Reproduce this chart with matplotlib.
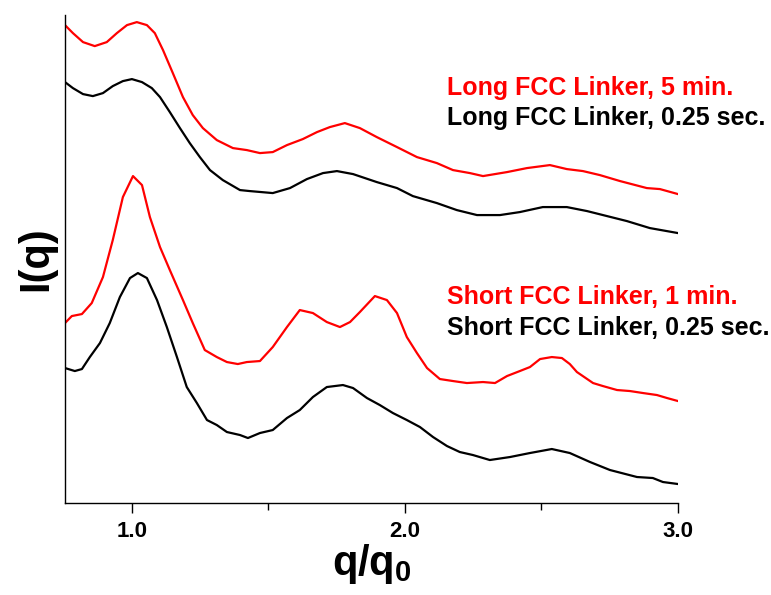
import matplotlib
matplotlib.use("Agg")
import matplotlib.pyplot as plt
from matplotlib.ticker import MultipleLocator

plt.rcParams['font.family'] = ['Liberation Sans', 'DejaVu Sans']

# Long FCC linker, 5 min (red, upper)
q_long5 = [0.755, 0.784, 0.821, 0.864, 0.908, 0.945, 0.982, 1.018, 1.055, 1.084,
           1.114, 1.150, 1.187, 1.223, 1.260, 1.311, 1.370, 1.421, 1.469, 1.516,
           1.568, 1.626, 1.678, 1.725, 1.780, 1.835, 1.897, 1.971, 2.044, 2.117,
           2.176, 2.238, 2.286, 2.374, 2.447, 2.531, 2.593, 2.652, 2.714, 2.788,
           2.886, 2.934, 3.0]
i_long5 = [4.78, 4.70, 4.61, 4.57, 4.61, 4.70, 4.78, 4.81, 4.78, 4.70,
           4.53, 4.30, 4.06, 3.88, 3.75, 3.63, 3.55, 3.53, 3.50, 3.51,
           3.58, 3.64, 3.71, 3.76, 3.80, 3.75, 3.66, 3.56, 3.46, 3.40,
           3.33, 3.30, 3.27, 3.31, 3.35, 3.38, 3.34, 3.32, 3.28, 3.22,
           3.15, 3.14, 3.09]

# Long FCC linker, 0.25 sec (black, upper)
q_long025 = [0.755, 0.784, 0.821, 0.857, 0.894, 0.930, 0.967, 1.000, 1.037, 1.073,
             1.103, 1.139, 1.176, 1.212, 1.249, 1.286, 1.333, 1.396, 1.432, 1.516,
             1.579, 1.641, 1.700, 1.751, 1.810, 1.897, 1.971, 2.029, 2.117, 2.190,
             2.264, 2.348, 2.421, 2.505, 2.593, 2.667, 2.740, 2.813, 2.897, 3.0]
i_long025 = [4.21, 4.15, 4.09, 4.07, 4.10, 4.17, 4.22, 4.24, 4.21, 4.15,
             4.06, 3.91, 3.75, 3.60, 3.46, 3.33, 3.23, 3.13, 3.12, 3.10,
             3.15, 3.24, 3.30, 3.32, 3.29, 3.21, 3.15, 3.07, 3.00, 2.93,
             2.88, 2.88, 2.91, 2.96, 2.96, 2.92, 2.87, 2.82, 2.75, 2.70]

# Short FCC linker, 1 min (red, lower)
q_short1 = [0.755, 0.780, 0.817, 0.853, 0.894, 0.930, 0.967, 1.004, 1.037, 1.066,
            1.103, 1.139, 1.187, 1.223, 1.267, 1.311, 1.348, 1.388, 1.421, 1.469,
            1.516, 1.568, 1.615, 1.663, 1.714, 1.762, 1.799, 1.835, 1.890, 1.934,
            1.971, 2.007, 2.044, 2.081, 2.128, 2.176, 2.227, 2.286, 2.330, 2.374,
            2.421, 2.458, 2.495, 2.538, 2.575, 2.604, 2.630, 2.689, 2.725, 2.777,
            2.824, 2.872, 2.923, 2.960, 3.0]
i_short1 = [1.80, 1.87, 1.89, 2.00, 2.26, 2.63, 3.06, 3.27, 3.18, 2.86,
            2.56, 2.33, 2.03, 1.80, 1.53, 1.46, 1.41, 1.39, 1.41, 1.42,
            1.56, 1.76, 1.93, 1.90, 1.81, 1.76, 1.81, 1.91, 2.07, 2.03,
            1.90, 1.66, 1.50, 1.35, 1.24, 1.22, 1.20, 1.21, 1.20, 1.27,
            1.32, 1.36, 1.44, 1.46, 1.45, 1.39, 1.31, 1.20, 1.17, 1.13,
            1.12, 1.10, 1.08, 1.05, 1.02]

# Short FCC linker, 0.25 sec (black, lower)
q_short025 = [0.755, 0.791, 0.817, 0.846, 0.883, 0.919, 0.956, 0.993, 1.022, 1.055,
              1.092, 1.128, 1.165, 1.201, 1.238, 1.275, 1.311, 1.348, 1.396, 1.425,
              1.469, 1.516, 1.568, 1.615, 1.663, 1.714, 1.773, 1.810, 1.861, 1.908,
              1.956, 2.007, 2.055, 2.103, 2.154, 2.201, 2.249, 2.311, 2.385, 2.458,
              2.538, 2.604, 2.678, 2.751, 2.850, 2.908, 2.945, 3.0]
i_short025 = [1.35, 1.32, 1.34, 1.46, 1.60, 1.80, 2.06, 2.25, 2.30, 2.25,
              2.03, 1.76, 1.46, 1.16, 1.00, 0.83, 0.78, 0.71, 0.68, 0.65,
              0.70, 0.73, 0.85, 0.93, 1.06, 1.16, 1.18, 1.15, 1.05, 0.98,
              0.90, 0.83, 0.76, 0.66, 0.57, 0.51, 0.48, 0.43, 0.46, 0.50,
              0.54, 0.50, 0.41, 0.33, 0.26, 0.25, 0.21, 0.19]

labels = ["Long FCC Linker, 5 min.", "Long FCC Linker, 0.25 sec.",
          "Short FCC Linker, 1 min.", "Short FCC Linker, 0.25 sec."]

fig = plt.figure(figsize=(7.71, 5.95), dpi=100)
ax = fig.add_axes([0.0843, 0.1546, 0.795, 0.82])

for q, i, c in [(q_long5, i_long5, 'red'), (q_long025, i_long025, 'black'),
                (q_short1, i_short1, 'red'), (q_short025, i_short025, 'black')]:
    ax.plot(q, i, color=c, lw=1.6, solid_joinstyle='round')

ax.set_xlim(0.755, 3.0)
ax.set_ylim(0, 4.88)

for s in ['top', 'right']:
    ax.spines[s].set_visible(False)
for s in ['left', 'bottom']:
    ax.spines[s].set_linewidth(1.0)

ax.set_yticks([])
ax.xaxis.set_minor_locator(MultipleLocator(0.5))
ax.tick_params(axis='x', which='major', direction='out', length=7, width=1, pad=6)
ax.tick_params(axis='x', which='minor', direction='out', length=5, width=1)
ax.set_xticks([1.0, 2.0, 3.0])
ax.set_xticklabels(['1.0', '2.0', '3.0'], fontweight='bold', fontsize=16)

ax.set_xlabel(r'q/q$_\mathregular{0}$', fontsize=30, fontweight='bold', labelpad=0)
ax.set_ylabel('I(q)', fontsize=30, fontweight='bold', labelpad=6)

tx = 0.623
ys = [0.836, 0.775, 0.408, 0.344]
cols = ['red', 'black', 'red', 'black']
for lab, yy, c in zip(labels, ys, cols):
    ax.text(tx, yy, lab, transform=ax.transAxes, color=c, fontsize=18,
            fontweight='bold', va='baseline', ha='left')

fig.savefig('out.png', dpi=100)
